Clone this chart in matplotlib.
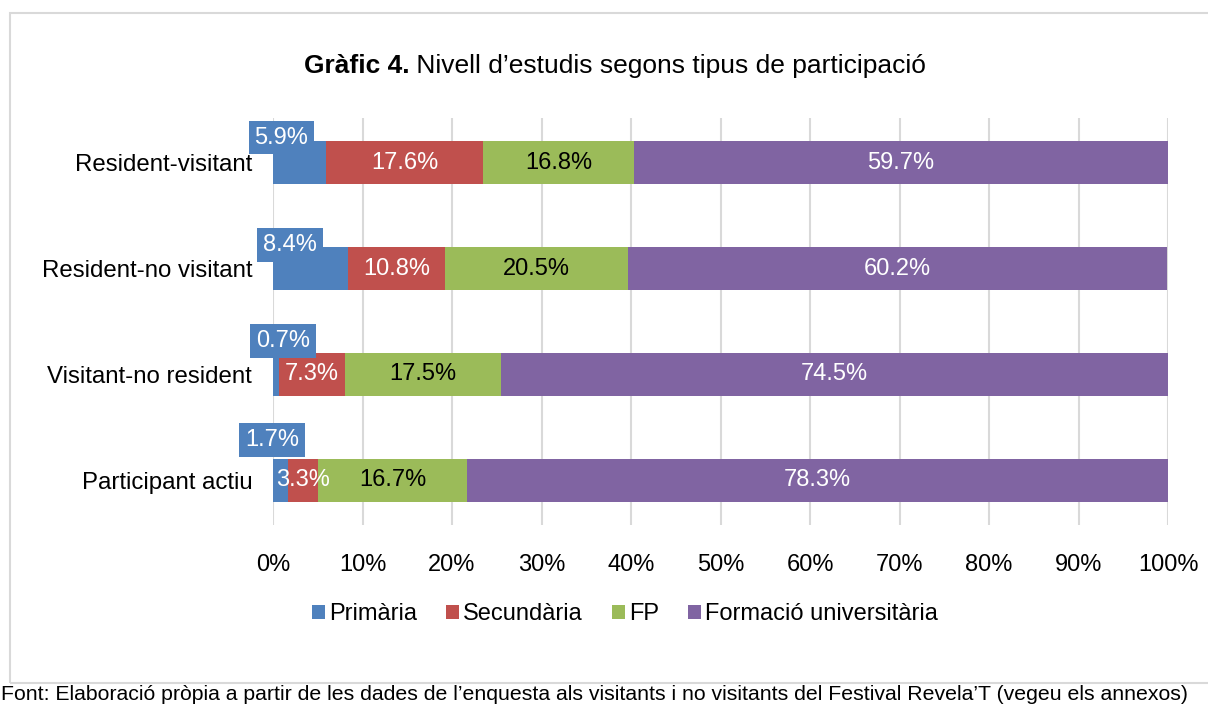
import matplotlib
matplotlib.use("Agg")
import matplotlib.pyplot as plt
import numpy as np
from matplotlib.patches import Rectangle

# data
categories = ["Resident-visitant", "Resident-no visitant", "Visitant-no resident", "Participant actiu"]
series = ["Primària", "Secundària", "FP", "Formació universitària"]
primaria = [5.9, 8.4, 0.7, 1.7]
secundaria = [17.6, 10.8, 7.3, 3.3]
fp = [16.8, 20.5, 17.5, 16.7]
universitaria = [59.7, 60.2, 74.5, 78.3]
xticks = [0, 10, 20, 30, 40, 50, 60, 70, 80, 90, 100]

colors = ["#4F81BD", "#C0504D", "#9BBB59", "#8064A2"]
txtcol = ["white", "white", "black", "white"]
# callout offsets (points) for the Primària labels
callout = [(-13, 18), (-15, 17), (5, 24), (-6, 29)]

plt.rcParams['font.family'] = ['Liberation Sans', 'DejaVu Sans']

fig = plt.figure(figsize=(12.08, 7.06), dpi=100)
ax = fig.add_axes([273/1208, 1-525/706, 895/1208, 407/706])

# chart frame
fig.patches.append(Rectangle((10/1208, 1-683/706), 1.1, 670/706, transform=fig.transFigure,
                             fill=False, edgecolor="#D9D9D9", linewidth=1.5, zorder=0))

y = np.arange(len(categories))
left = np.zeros(len(categories))
bars = []
for vals, name, c in zip([primaria, secundaria, fp, universitaria], series, colors):
    b = ax.barh(y, vals, left=left, height=0.4, color=c, label=name, zorder=3)
    bars.append(b)
    left = left + np.array(vals)

# labels
for si, (b, vals) in enumerate(zip(bars, [primaria, secundaria, fp, universitaria])):
    for i, rect in enumerate(b):
        cx = rect.get_x() + rect.get_width()/2
        cy = rect.get_y() + rect.get_height()/2
        lab = f"{vals[i]:.1f}%"
        if si == 0:
            ax.annotate(lab, (cx, cy), xytext=callout[i], textcoords="offset points",
                        ha="center", va="center", color="white", fontsize=17, zorder=5,
                        bbox=dict(boxstyle="square,pad=0.25", fc=colors[0], ec="none"))
        else:
            ax.text(cx, cy, lab, ha="center", va="center", color=txtcol[si], fontsize=17, zorder=4)

ax.set_xlim(0, 100)
ax.set_ylim(len(categories)-1+0.42, -0.42)
ax.set_yticks(y)
ax.set_yticklabels(categories, fontsize=17.3)
ax.set_xticks(xticks)
ax.set_xticklabels([f"{t}%" for t in xticks], fontsize=17)
ax.tick_params(axis="both", length=0)
ax.tick_params(axis="x", pad=21)
ax.tick_params(axis="y", pad=15)
for s in ax.spines.values():
    s.set_visible(False)
ax.grid(axis="x", color="#D9D9D9", linewidth=1.5, zorder=0)
ax.set_axisbelow(True)

fig.legend(handles=bars, labels=series, loc="center", bbox_to_anchor=(625/1208, 1-614/706),
           ncol=4, frameon=False, fontsize=17, handlelength=0.55, handleheight=0.55,
           handletextpad=0.15, columnspacing=1.25)

# title with bold prefix
fig.canvas.draw()
r = fig.canvas.get_renderer()
t1 = fig.text(0, 1-66/706, "Gràfic 4.", fontsize=19, fontweight="bold", va="center", ha="left")
t2 = fig.text(0, 1-66/706, " Nivell d’estudis segons tipus de participació", fontsize=19, va="center", ha="left")
w1 = t1.get_window_extent(r).width
w2 = t2.get_window_extent(r).width
x0 = 615 - (w1 + w2)/2
t1.set_x(x0/1208)
t2.set_x((x0 + w1)/1208)

fig.text(1/1208, 1-704/706,
         "Font: Elaboració pròpia a partir de les dades de l’enquesta als visitants i no visitants del Festival Revela’T (vegeu els annexos)",
         fontsize=15.3, va="bottom", ha="left")

fig.savefig("out.png", dpi=100)
